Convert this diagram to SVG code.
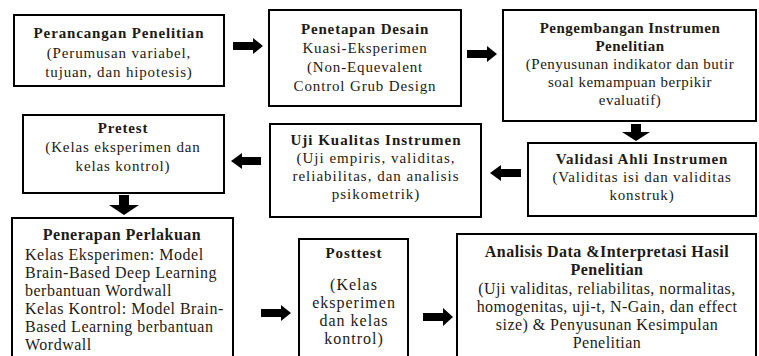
<svg xmlns="http://www.w3.org/2000/svg" width="759" height="356" viewBox="0 0 759 356">
<style>
.box{fill:#fff;stroke:#000;stroke-width:2}
text{font-family:"Liberation Serif","Times New Roman","DejaVu Serif",serif;font-size:15px;letter-spacing:0.85px;fill:#1e1a14}
.c{text-anchor:middle}
.b{font-weight:bold}
.n3{letter-spacing:0.5px}
.u{letter-spacing:1px}
.p7{font-size:16px;letter-spacing:0.5px}
.p8{font-size:16px;letter-spacing:1px}
.p9{font-size:16px;letter-spacing:0.45px}
.arr{fill:#000}
</style>
<rect width="759" height="356" fill="#fff"/>
<g id="n1">
<rect class="box" x="14" y="15" width="210" height="71"/>
<text class="c b" x="119" y="38">Perancangan Penelitian</text>
<text class="c" x="119" y="58">(Perumusan variabel,</text>
<text class="c" x="119" y="77">tujuan, dan hipotesis)</text>
</g>
<g id="n2">
<rect class="box" x="269" y="10" width="192" height="96"/>
<text class="c b" x="365" y="34">Penetapan Desain</text>
<text class="c" x="365" y="53">Kuasi-Eksperimen</text>
<text class="c" x="365" y="72">(Non-Equevalent</text>
<text class="c" x="365" y="91">Control Grub Design</text>
</g>
<g id="n3">
<rect class="box" x="503" y="10" width="253" height="111"/>
<text class="c b n3" x="630" y="33">Pengembangan Instrumen</text>
<text class="c b n3" x="630" y="51">Penelitian</text>
<text class="c n3" x="630" y="69">(Penyusunan indikator dan butir</text>
<text class="c n3" x="630" y="87">soal kemampuan berpikir</text>
<text class="c n3" x="630" y="105">evaluatif)</text>
</g>
<g id="n4">
<rect class="box" x="528" y="143" width="228" height="73"/>
<text class="c b" x="642" y="164">Validasi Ahli Instrumen</text>
<text class="c" x="642" y="182">(Validitas isi dan validitas</text>
<text class="c" x="642" y="200">konstruk)</text>
</g>
<g id="n5">
<rect class="box" x="270" y="124" width="211" height="93"/>
<text class="c b u" x="376" y="145">Uji Kualitas Instrumen</text>
<text class="c u" x="376" y="163">(Uji empiris, validitas,</text>
<text class="c u" x="376" y="181">reliabilitas, dan analisis</text>
<text class="c u" x="376" y="199">psikometrik)</text>
</g>
<g id="n6">
<rect class="box" x="23" y="115" width="201" height="78"/>
<text class="c b" x="123" y="133">Pretest</text>
<text class="c" x="123" y="152">(Kelas eksperimen dan</text>
<text class="c" x="123" y="171">kelas kontrol)</text>
</g>
<g id="n7">
<rect class="box" x="12" y="218" width="221" height="145"/>
<text class="c b p7" x="122" y="240">Penerapan Perlakuan</text>
<text class="p7" x="25" y="260">Kelas Eksperimen: Model</text>
<text class="p7" x="25" y="278">Brain-Based Deep Learning</text>
<text class="p7" x="25" y="296">berbantuan Wordwall</text>
<text class="p7" x="25" y="314">Kelas Kontrol: Model Brain-</text>
<text class="p7" x="25" y="332">Based Learning berbantuan</text>
<text class="p7" x="25" y="350">Wordwall</text>
</g>
<g id="n8">
<rect class="box" x="299" y="239" width="109" height="124"/>
<text class="c b" x="354" y="258">Posttest</text>
<text class="c p8" x="354" y="290">(Kelas</text>
<text class="c p8" x="354" y="308">eksperimen</text>
<text class="c p8" x="354" y="326">dan kelas</text>
<text class="c p8" x="354" y="344">kontrol)</text>
</g>
<g id="n9">
<rect class="box" x="457" y="234" width="299" height="129"/>
<text class="c b p9" x="607" y="257">Analisis Data &amp;Interpretasi Hasil</text>
<text class="c b p9" x="607" y="275">Penelitian</text>
<text class="c p9" x="607" y="294">(Uji validitas, reliabilitas, normalitas,</text>
<text class="c p9" x="607" y="312">homogenitas, uji-t, N-Gain, dan effect</text>
<text class="c p9" x="607" y="330">size) &amp; Penyusunan Kesimpulan</text>
<text class="c p9" x="607" y="348">Penelitian</text>
</g>
<g id="connectors">
<path class="arr" d="M233,42 H253 V38 L263,46 L253,54 V50 H233 Z"/>
<path class="arr" d="M467,50 H487 V46 L497,54 L487,62 V58 H467 Z"/>
<path class="arr" d="M631,124 V132 H622 L636,141 L650,132 H641 V124 Z"/>
<path class="arr" d="M521,169 H501 V165 L490,173 L501,181 V177 H521 Z"/>
<path class="arr" d="M261,157 H242 V153 L231,161 L242,169 V165 H261 Z"/>
<path class="arr" d="M119,195 V205 H109 L124,215 L139,205 H129 V195 Z"/>
<path class="arr" d="M261,309 H281 V305 L291,313 L281,321 V317 H261 Z"/>
<path class="arr" d="M423,313 H443 V308 L453,317 L443,326 V321 H423 Z"/>
</g>
</svg>
